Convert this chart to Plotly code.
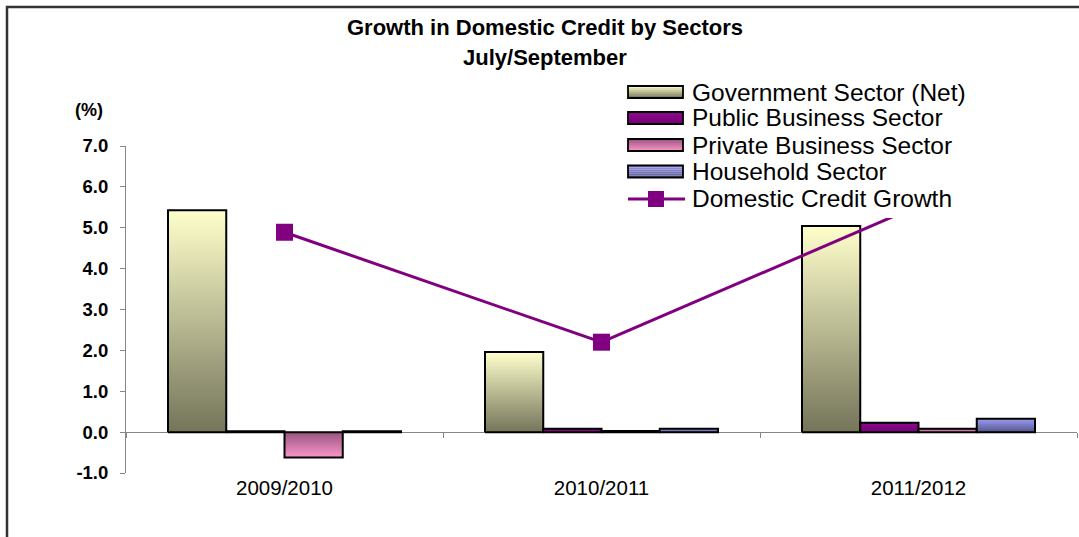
import plotly.graph_objects as go

# ---- data -------------------------------------------------------------
categories = ["2009/2010", "2010/2011", "2011/2012"]
government = [5.43, 1.96, 5.04]
public_business = [0.02, 0.08, 0.23]
private_business = [-0.62, 0.03, 0.08]
household = [0.02, 0.08, 0.33]
domestic_credit = [4.89, 2.20, 5.54]
series_names = ["Government Sector (Net)", "Public Business Sector",
                "Private Business Sector", "Household Sector"]
line_name = "Domestic Credit Growth"
y_ticks = [-1, 0, 1, 2, 3, 4, 5, 6, 7]

# ---- styling ----------------------------------------------------------
W, H = 1079, 537
ML, MR, MT, MB = 126, 2, 146, 64
PW, PH = W - ML - MR, H - MT - MB
Y_MIN, Y_MAX = -1, 7
FONT = "Arial, Liberation Sans, sans-serif"
AXIS_GREY = "#868686"
PURPLE = "#800080"

# (top colour, bottom colour) of each series' vertical gradient
GRADIENTS = [
    ("#FFFFCC", "#74745A"),
    ("#8A0A8A", "#780078"),
    ("#9A5482", "#FA96C8"),
    ("#9C9CF6", "#56568A"),
]
GROUP_WIDTH = 0.735


def px(x):
    """page pixel x -> paper x"""
    return (x - ML) / PW


def py(y):
    """page pixel y -> paper y"""
    return (H - MB - y) / PH


def mix(c1, c2, t):
    a = [int(c1[i:i + 2], 16) for i in (1, 3, 5)]
    b = [int(c2[i:i + 2], 16) for i in (1, 3, 5)]
    return "#%02x%02x%02x" % tuple(round(a[k] + (b[k] - a[k]) * t) for k in range(3))


fig = go.Figure()

# ---- grouped bars with vertical gradient fills ------------------------
all_series = [government, public_business, private_business, household]
n_series = len(all_series)
bar_w = GROUP_WIDTH / n_series
for s, values in enumerate(all_series):
    top, bottom = GRADIENTS[s]
    offset = (s - (n_series - 1) / 2) * bar_w
    for i, v in enumerate(values):
        left = i + offset - bar_w / 2
        right = i + offset + bar_w / 2
        fig.add_trace(go.Scatter(
            x=[left, left, right, right, left],
            y=[0, v, v, 0, 0],
            mode="lines",
            fill="toself",
            fillgradient=dict(type="vertical",
                              colorscale=[[0, bottom], [1, top]]),
            line=dict(color="black", width=2),
            name=series_names[s],
            showlegend=False,
            hoverinfo="skip",
        ))

# ---- domestic credit growth line --------------------------------------
fig.add_trace(go.Scatter(
    x=list(range(len(categories))),
    y=domestic_credit,
    xaxis="x2",
    mode="lines+markers",
    line=dict(color=PURPLE, width=3),
    marker=dict(symbol="square", size=17, color=PURPLE),
    name=line_name,
    showlegend=False,
))

# ---- legend drawn with shapes + annotations ---------------------------
shapes = []
annotations = []

# white legend panel (covers the plot beneath it)
shapes.append(dict(type="rect", xref="paper", yref="paper", layer="above",
                   x0=px(618), x1=px(992), y0=py(78), y1=py(218),
                   fillcolor="white", line=dict(width=0)))

row_y = [92, 118, 145, 171.5, 199]
sw_l, sw_r, sw_h = 628, 683, 12
strips = 6
for s in range(n_series):
    top, bottom = GRADIENTS[s]
    cy = row_y[s]
    y_top = cy - sw_h / 2
    for k in range(strips):
        shapes.append(dict(type="rect", xref="paper", yref="paper", layer="above",
                           x0=px(sw_l), x1=px(sw_r),
                           y0=py(y_top + sw_h * k / strips),
                           y1=py(y_top + sw_h * (k + 1) / strips),
                           fillcolor=mix(top, bottom, (k + 0.5) / strips),
                           line=dict(width=0)))
    shapes.append(dict(type="rect", xref="paper", yref="paper", layer="above",
                       x0=px(sw_l), x1=px(sw_r), y0=py(cy + sw_h / 2), y1=py(cy - sw_h / 2),
                       line=dict(color="black", width=1.8)))
    annotations.append(dict(text=series_names[s], xref="paper", yref="paper",
                            x=px(690), y=py(cy), xanchor="left", yanchor="middle",
                            showarrow=False, font=dict(family=FONT, size=24.5, color="black")))

cy = row_y[4]
shapes.append(dict(type="line", xref="paper", yref="paper", layer="above",
                   x0=px(sw_l), x1=px(sw_r + 2), y0=py(cy), y1=py(cy),
                   line=dict(color=PURPLE, width=3)))
shapes.append(dict(type="rect", xref="paper", yref="paper", layer="above",
                   x0=px(648), x1=px(664), y0=py(cy + 8), y1=py(cy - 8),
                   fillcolor=PURPLE, line=dict(width=0)))
annotations.append(dict(text=line_name, xref="paper", yref="paper",
                        x=px(690), y=py(cy - 1), xanchor="left", yanchor="middle",
                        showarrow=False, font=dict(family=FONT, size=24.5, color="black")))

# ---- titles -----------------------------------------------------------
annotations.append(dict(text="<b>Growth in Domestic Credit by Sectors</b>",
                        xref="paper", yref="paper", x=px(545), y=py(27),
                        xanchor="center", yanchor="middle", showarrow=False,
                        font=dict(family=FONT, size=22, color="black")))
annotations.append(dict(text="<b>July/September</b>",
                        xref="paper", yref="paper", x=px(545), y=py(58),
                        xanchor="center", yanchor="middle", showarrow=False,
                        font=dict(family=FONT, size=22, color="black")))
annotations.append(dict(text="<b>(%)</b>", xref="paper", yref="paper",
                        x=px(89), y=py(110), xanchor="center", yanchor="middle",
                        showarrow=False, font=dict(family=FONT, size=18, color="black")))

# outer frame
shapes.append(dict(type="rect", xref="paper", yref="paper", layer="above",
                   x0=px(7), x1=px(W + 10), y0=py(H + 10), y1=py(7),
                   line=dict(color="#333333", width=2.5)))

# ---- layout -----------------------------------------------------------
x_range = [-0.5, len(categories) - 0.5]
fig.update_layout(
    width=W, height=H,
    margin=dict(l=ML, r=MR, t=MT, b=MB),
    paper_bgcolor="white", plot_bgcolor="white",
    showlegend=False,
    shapes=shapes,
    annotations=annotations,
    xaxis=dict(range=x_range, tickvals=list(range(len(categories))),
               ticktext=categories, showline=False, ticks="",
               showgrid=False, zeroline=False,
               tickfont=dict(family=FONT, size=20.5, color="black")),
    xaxis2=dict(range=x_range, overlaying="x", anchor="free",
                position=(0 - Y_MIN) / (Y_MAX - Y_MIN), side="bottom",
                tickvals=[k - 0.5 for k in range(len(categories) + 1)],
                showticklabels=False, ticks="outside", ticklen=5,
                tickcolor=AXIS_GREY, showline=False, showgrid=False,
                zeroline=False),
    yaxis=dict(range=[Y_MIN, Y_MAX], tickvals=y_ticks,
               ticktext=[f"{v:.1f}" for v in y_ticks],
               showline=True, linecolor=AXIS_GREY, linewidth=1,
               ticks="outside", ticklen=5, tickcolor=AXIS_GREY,
               showgrid=False, zeroline=True, zerolinecolor=AXIS_GREY,
               zerolinewidth=1, ticklabelstandoff=8,
               tickfont=dict(family=FONT, size=18.5, color="black", weight="bold")),
)

fig.write_html("out.html")
